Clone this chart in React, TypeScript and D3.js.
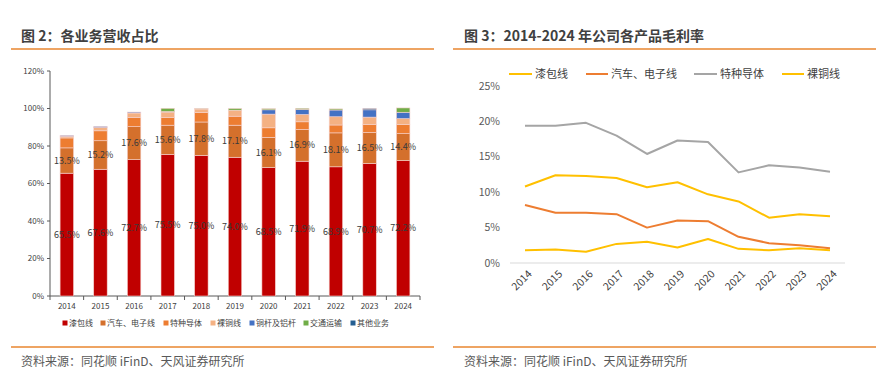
import React from "react";
import * as d3 from "d3";

const years = ["2014", "2015", "2016", "2017", "2018", "2019", "2020", "2021", "2022", "2023", "2024"];

// 图2 revenue share by business (%)
const enamelShare = [65.5, 67.6, 72.7, 75.5, 75.0, 74.0, 68.5, 71.9, 68.9, 70.7, 72.2];
const autoShare = [13.5, 15.2, 17.6, 15.6, 17.8, 17.1, 16.1, 16.9, 18.1, 16.5, 14.4];
const specialShare = [5.3, 5.3, 5.0, 4.2, 5.0, 4.8, 5.1, 4.1, 4.2, 4.2, 4.8];
const bareShare = [0.9, 1.8, 2.3, 2.8, 1.9, 3.2, 7.3, 3.9, 4.4, 4.0, 3.2];
const rodShare = [0.4, 0.5, 0.5, 0.3, 0.0, 0.0, 2.3, 2.7, 3.6, 3.9, 3.4];
const transportShare = [0.0, 0.0, 0.0, 1.7, 0.3, 0.9, 0.6, 0.6, 0.6, 0.0, 2.3];
const otherShare = [0.0, 0.0, 0.0, 0.0, 0.0, 0.0, 0.0, 0.0, 0.0, 0.7, 0.0];

const shareNames = ["漆包线", "汽车、电子线", "特种导体", "裸铜线", "铜杆及铝杆", "交通运输", "其他业务"];
const shareColors = ["#C00000", "#D4702C", "#ED7D31", "#F4B183", "#4472C4", "#70AD47", "#255E91"];
const shareSeries = [enamelShare, autoShare, specialShare, bareShare, rodShare, transportShare, otherShare];
const shareTicks = [0, 20, 40, 60, 80, 100, 120];

// 图3 gross margin by product (%)
const enamelMargin = [10.8, 12.4, 12.3, 12.0, 10.7, 11.4, 9.7, 8.7, 6.4, 6.9, 6.6];
const autoMargin = [8.2, 7.1, 7.1, 6.9, 5.0, 6.0, 5.9, 3.7, 2.8, 2.5, 2.1];
const specialMargin = [19.4, 19.4, 19.8, 18.0, 15.4, 17.3, 17.1, 12.8, 13.8, 13.5, 12.9];
const bareMargin = [1.8, 1.9, 1.6, 2.7, 3.0, 2.2, 3.4, 2.0, 1.8, 2.1, 1.8];
const marginNames = ["漆包线", "汽车、电子线", "特种导体", "裸铜线"];
const marginColors = ["#FFC000", "#ED7D31", "#A5A5A5", "#FFC000"];
const marginSeries = [enamelMargin, autoMargin, specialMargin, bareMargin];
const marginTicks = [0, 5, 10, 15, 20, 25];

const font = "'Noto Sans CJK SC', 'Noto Sans', sans-serif";
const accent = "#E8862F";

function ShareChart() {
  const x = d3.scaleBand<string>().domain(years).range([50, 420]).paddingInner(0.6).paddingOuter(0.3);
  const y = d3.scaleLinear().domain([0, 120]).range([296, 71]);
  const stack = years.map((yr, i) => {
    let acc = 0;
    return shareSeries.map((s) => {
      const seg = [acc, acc + s[i]];
      acc += s[i];
      return seg;
    });
  });
  const legendX = [65, 103, 166, 213, 252, 306, 353];
  return (
    <g>
      {shareTicks.map((t) => (
        <g key={t}>
          <line x1={47} x2={50} y1={y(t)} y2={y(t)} stroke="#595959" />
          <text x={44} y={y(t)} dy="0.35em" textAnchor="end" fontSize={8} fill="#404040">{t}%</text>
        </g>
      ))}
      <line x1={50} x2={50} y1={y(120)} y2={y(0)} stroke="#595959" />
      <line x1={50} x2={420} y1={y(0)} y2={y(0)} stroke="#595959" />
      {d3.range(years.length + 1).map((i) => (
        <line key={i} x1={50 + i * x.step()} x2={50 + i * x.step()} y1={y(0)} y2={y(0) + 4} stroke="#595959" />
      ))}
      {years.map((yr, i) => (
        <g key={yr}>
          {stack[i].map((seg, k) =>
            seg[1] - seg[0] > 0 ? (
              <rect key={k} x={x(yr)} width={x.bandwidth()} y={y(seg[1])} height={y(seg[0]) - y(seg[1])}
                fill={shareColors[k]} stroke="#F6D3CF" strokeWidth={0.6} />
            ) : null
          )}
          <text x={x(yr)! + x.bandwidth() / 2} y={y(enamelShare[i] / 2)} dy="0.35em" textAnchor="middle" fontSize={9} fill="#3a3a3a">
            {enamelShare[i].toFixed(1)}%
          </text>
          <text x={x(yr)! + x.bandwidth() / 2} y={y(enamelShare[i] + autoShare[i] / 2)} dy="0.35em" textAnchor="middle" fontSize={9} fill="#3a3a3a">
            {autoShare[i].toFixed(1)}%
          </text>
          <text x={x(yr)! + x.bandwidth() / 2} y={306} dy="0.35em" textAnchor="middle" fontSize={8} fill="#404040">{yr}</text>
        </g>
      ))}
      {shareNames.map((n, k) => (
        <g key={n}>
          <rect x={legendX[k] - 2.5} y={320.5} width={5} height={5} fill={shareColors[k]} />
          <text x={legendX[k] + 4} y={323} dy="0.35em" fontSize={8} fill="#404040">{n}</text>
        </g>
      ))}
    </g>
  );
}

function MarginChart() {
  const x = d3.scalePoint<string>().domain(years).range([525, 830]);
  const y = d3.scaleLinear().domain([0, 25]).range([263, 86]);
  const line = d3.line<number>().x((_, i) => x(years[i])!).y((d) => y(d));
  const legend = [[509, 532], [586, 608], [694, 717], [782, 804]];
  return (
    <g>
      {marginTicks.map((t) => (
        <text key={t} x={500} y={y(t)} dy="0.35em" textAnchor="end" fontSize={10.5} fill="#595959">{t}%</text>
      ))}
      <line x1={510} x2={845} y1={y(0)} y2={y(0)} stroke="#D9D9D9" />
      {years.map((yr) => (
        <text key={yr} transform={`translate(${x(yr)! + 5},${272}) rotate(-45)`} textAnchor="end" dy="0.35em"
          fontSize={10.5} fill="#404040">{yr}</text>
      ))}
      {marginSeries.map((s, k) => (
        <path key={k} d={line(s)!} fill="none" stroke={marginColors[k]} strokeWidth={2} strokeLinejoin="round" />
      ))}
      {marginNames.map((n, k) => (
        <g key={n}>
          <line x1={legend[k][0]} x2={legend[k][1]} y1={74} y2={74} stroke={marginColors[k]} strokeWidth={2} />
          <text x={legend[k][1] + 3} y={74} dy="0.35em" fontSize={11} fill="#404040">{n}</text>
        </g>
      ))}
    </g>
  );
}

export default function App() {
  return (
    <svg width={896} height={390} style={{ position: "absolute", left: 0, top: 0, fontFamily: font }}>
      <rect width={896} height={390} fill="#fff" />
      <text x={21} y={36} dy="0.35em" fontSize={14} fontWeight={600} fill="#404040">图 2：各业务营收占比</text>
      <text x={464} y={36} dy="0.35em" fontSize={14} fontWeight={600} fill="#404040">图 3：2014-2024 年公司各产品毛利率</text>
      <line x1={11} x2={434} y1={49} y2={49} stroke={accent} strokeWidth={1.5} />
      <line x1={453} x2={876} y1={49} y2={49} stroke={accent} strokeWidth={1.5} />
      <line x1={11} x2={434} y1={347} y2={347} stroke={accent} strokeWidth={1.5} />
      <line x1={453} x2={876} y1={347} y2={347} stroke={accent} strokeWidth={1.5} />
      <text x={21} y={362} dy="0.35em" fontSize={12} fill="#595959">资料来源：同花顺 iFinD、天风证券研究所</text>
      <text x={464} y={362} dy="0.35em" fontSize={12} fill="#595959">资料来源：同花顺 iFinD、天风证券研究所</text>
      <ShareChart />
      <MarginChart />
    </svg>
  );
}
